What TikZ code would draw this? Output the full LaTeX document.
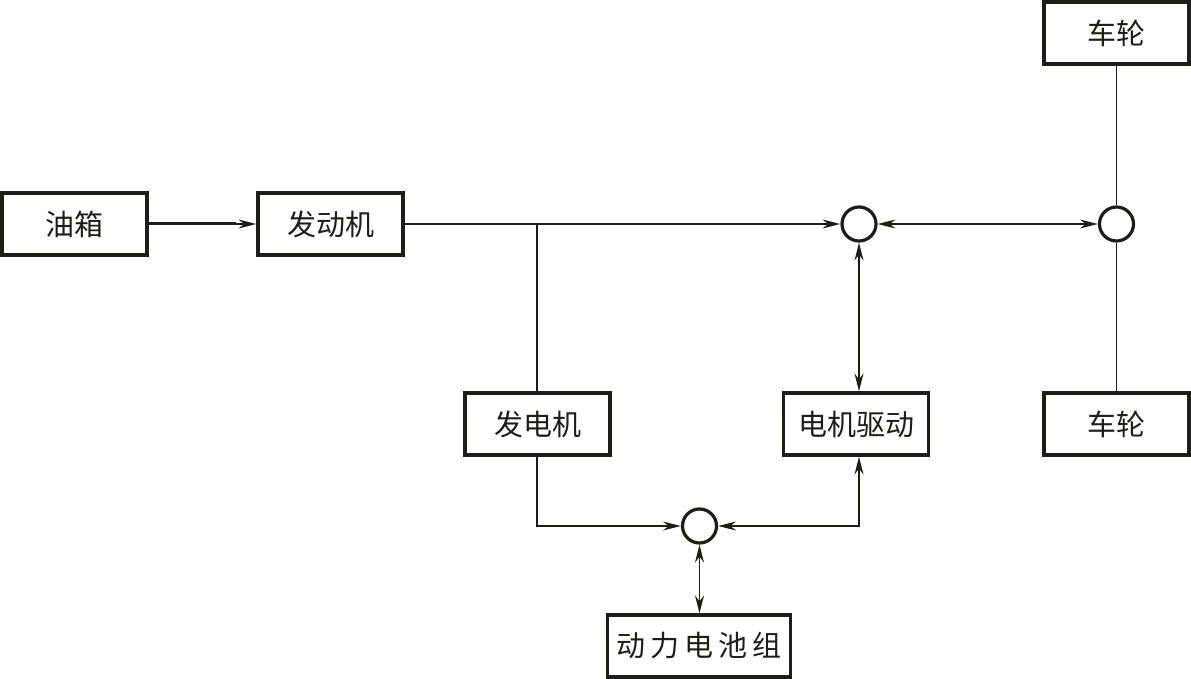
\documentclass[tikz,border=0pt]{standalone}
\usepackage{fontspec}
\newfontfamily\cjk{Noto Sans CJK SC}
\usetikzlibrary{arrows.meta}
\definecolor{ink}{HTML}{1E1E16}
\tikzset{
  blk/.style={draw=ink, line width=3.2pt, minimum width=145pt, minimum height=62pt, inner sep=0pt, font=\cjk\fontsize{29}{32}\selectfont, text=ink},
  jn/.style={draw=ink, line width=3.2pt, circle, minimum size=34pt, inner sep=0pt},
  wire/.style={draw=ink, line width=1.5pt},
  tip/.style={-{Stealth[length=18pt,width=9pt,inset=6pt]}},
  tips/.style={{Stealth[length=18pt,width=9pt,inset=6pt]}-{Stealth[length=18pt,width=9pt,inset=6pt]}}
}
\begin{document}
\begin{tikzpicture}[x=1pt,y=-1pt]
\useasboundingbox (0,0) rectangle (1191,679);
\node[blk] (tank) at (74.5,224) {油箱};
\node[blk] (eng) at (330.5,224) {发动机};
\node[blk] (wt) at (1116.5,33) {车轮};
\node[blk] (wb) at (1116.5,424) {车轮};
\node[blk] (gen) at (537.5,424) {发电机};
\node[blk] (mot) at (856,424) {电机驱动};
\node[blk, minimum width=183pt] (bat) at (699,646) {动\,力\,电\,池\,组};
\node[jn] (c1) at (859,224) {};
\node[jn] (c2) at (1116.5,224) {};
\node[jn] (c3) at (699.5,526) {};
\coordinate (t1) at (236,224);
\coordinate (br) at (537,224);
\coordinate (gl) at (537,526);
\coordinate (mr) at (859,526);
% tank to engine
\draw[wire, line width=3pt] (tank.east) -- (t1);
\draw[wire, tip] (t1) -- (eng.west);
% engine to junction 1
\draw[wire, tip] (eng.east) -- (c1.west);
\draw[wire] (br) -- (gen.north -| br);
% junction 1 <-> junction 2
\draw[wire, tips] (c1.east) -- (c2.west);
% junction 1 <-> motor drive
\draw[wire, tips] (c1.south) -- (mot.north -| c1.south);
% wheels
\draw[wire] (c2.north) -- (wt.south);
\draw[wire] (c2.south) -- (wb.north);
% generator to junction 3
\draw[wire, tip] (gen.south -| gl) -- (gl) -- (c3.west);
% junction 3 <-> motor drive
\draw[wire, tips] (c3.east) -- (mr) -- (mot.south -| mr);
% junction 3 <-> battery
\draw[wire, tips] (c3.south) -- (bat.north -| c3.south);
\end{tikzpicture}
\end{document}
